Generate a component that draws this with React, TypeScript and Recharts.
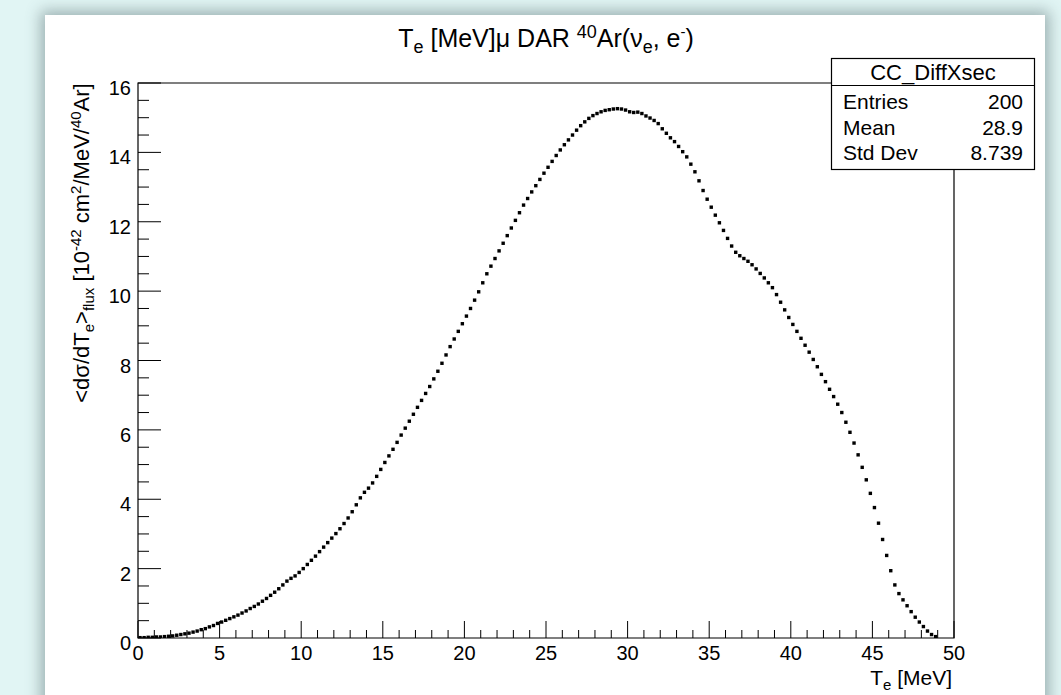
import { ScatterChart, Scatter, XAxis, YAxis, ReferenceArea } from 'recharts'

// histogram binning: 200 bins from 0 to 50 MeV
const BIN_LO = 0
const BIN_HI = 50
const N_BINS = 200

// bin contents, 10 MeV per block (40 bins each)
const xsec0to10 = [
  0.01, 0.01, 0.02, 0.02, 0.03, 0.03, 0.04, 0.05, 0.06, 0.08,
  0.10, 0.12, 0.14, 0.17, 0.20, 0.24, 0.27, 0.32, 0.36, 0.42,
  0.46, 0.51, 0.56, 0.61, 0.66, 0.72, 0.78, 0.85, 0.91, 0.98,
  1.06, 1.14, 1.23, 1.32, 1.42, 1.53, 1.64, 1.72, 1.79, 1.89,
]
const xsec10to20 = [
  2.00, 2.12, 2.24, 2.36, 2.49, 2.62, 2.75, 2.88, 3.01, 3.15,
  3.30, 3.46, 3.64, 3.84, 4.04, 4.20, 4.32, 4.47, 4.66, 4.86,
  5.06, 5.25, 5.44, 5.64, 5.85, 6.05, 6.25, 6.45, 6.65, 6.85,
  7.05, 7.25, 7.47, 7.69, 7.92, 8.16, 8.40, 8.62, 8.84, 9.06,
]
const xsec20to30 = [
  9.28, 9.50, 9.74, 9.98, 10.24, 10.50, 10.72, 10.94, 11.16, 11.38,
  11.60, 11.82, 12.04, 12.26, 12.48, 12.67, 12.86, 13.04, 13.22, 13.40,
  13.57, 13.74, 13.91, 14.07, 14.22, 14.36, 14.50, 14.64, 14.77, 14.88,
  14.98, 15.06, 15.12, 15.17, 15.21, 15.23, 15.25, 15.26, 15.25, 15.22,
]
const xsec30to40 = [
  15.17, 15.15, 15.16, 15.12, 15.05, 14.99, 14.92, 14.83, 14.68, 14.55,
  14.42, 14.31, 14.17, 14.02, 13.87, 13.66, 13.44, 13.18, 12.90, 12.65,
  12.42, 12.19, 11.97, 11.75, 11.52, 11.30, 11.12, 11.02, 10.94, 10.86,
  10.76, 10.64, 10.51, 10.38, 10.24, 10.10, 9.90, 9.68, 9.46, 9.24,
]
const xsec40to50 = [
  9.04, 8.84, 8.64, 8.44, 8.24, 8.03, 7.82, 7.60, 7.39, 7.17,
  6.96, 6.74, 6.50, 6.22, 5.93, 5.62, 5.28, 4.92, 4.56, 4.17,
  3.76, 3.31, 2.84, 2.38, 1.94, 1.53, 1.28, 1.10, 0.93, 0.76,
  0.60, 0.46, 0.33, 0.20, 0.10, 0.04, 0, 0, 0, 0,
]

const xTicks = [
  0, 1, 2, 3, 4, 5, 6, 7, 8, 9, 10, 11, 12, 13, 14, 15, 16, 17, 18, 19, 20,
  21, 22, 23, 24, 25, 26, 27, 28, 29, 30, 31, 32, 33, 34, 35, 36, 37, 38, 39, 40,
  41, 42, 43, 44, 45, 46, 47, 48, 49, 50,
]
const xLabels = [0, 5, 10, 15, 20, 25, 30, 35, 40, 45, 50]
const yTicks = [
  0, 0.5, 1, 1.5, 2, 2.5, 3, 3.5, 4, 4.5, 5, 5.5, 6, 6.5, 7, 7.5, 8,
  8.5, 9, 9.5, 10, 10.5, 11, 11.5, 12, 12.5, 13, 13.5, 14, 14.5, 15, 15.5, 16,
]
const yLabels = [0, 2, 4, 6, 8, 10, 12, 14, 16]

const statRows = [
  ['Entries', '200'],
  ['Mean', '28.9'],
  ['Std Dev', '8.739'],
]

const FONT = '"Liberation Sans", Arial, Helvetica, sans-serif'

const binW = (BIN_HI - BIN_LO) / N_BINS
const data = [...xsec0to10, ...xsec10to20, ...xsec20to30, ...xsec30to40, ...xsec40to50]
  .map((v, i) => ({ x: BIN_LO + (i + 0.5) * binW, y: v }))

const XTick = (props: any) => {
  const { x, y, payload } = props
  const major = xLabels.includes(payload.value)
  return (
    <g>
      <line x1={x} y1={y} x2={x} y2={y - (major ? 17 : 8)} stroke="#000" strokeWidth={1} />
      {major && (
        <text x={x} y={y + 22} textAnchor="middle" fontSize={20} fontFamily={FONT} fill="#000">
          {payload.value}
        </text>
      )}
    </g>
  )
}

const YTick = (props: any) => {
  const { x, y, payload } = props
  const major = yLabels.includes(payload.value)
  return (
    <g>
      <line x1={x} y1={y} x2={x + (major ? 23 : 11)} y2={y} stroke="#000" strokeWidth={1} />
      {major && (
        <text x={x - 7} y={y + 12} textAnchor="end" fontSize={20} fontFamily={FONT} fill="#000">
          {payload.value}
        </text>
      )}
    </g>
  )
}

// small filled square, ROOT marker style 21-ish
const Marker = (props: any) => {
  const { cx, cy, payload } = props
  if (!payload || payload.y <= 0) return null
  return <rect x={cx - 1.7} y={cy - 1.7} width={3.4} height={3.4} fill="#000" />
}

export default function App() {
  return (
    <div style={{ position: 'fixed', left: 0, top: 0, width: 1061, height: 695, background: '#e1f5f4', overflow: 'hidden' }}>
      <div style={{
        position: 'absolute', left: 45, top: 15, width: 1000, height: 700,
        background: '#fff', boxShadow: '0 0 14px 4px rgba(70,90,95,0.45)',
      }} />
      <div style={{ position: 'absolute', left: 0, top: 0 }}>
        <ScatterChart width={1061} height={695} margin={{ top: 83, right: 107, bottom: 27, left: 78 }}>
          <XAxis
            type="number" dataKey="x" domain={[0, 50]} ticks={xTicks} interval={0}
            allowDataOverflow axisLine={false} tickLine={false} tickSize={0} tickMargin={0}
            height={30} tick={<XTick />}
          />
          <YAxis
            type="number" dataKey="y" domain={[0, 16]} ticks={yTicks} interval={0}
            allowDataOverflow axisLine={false} tickLine={false} tickSize={0} tickMargin={0}
            width={60} tick={<YTick />}
          />
          <ReferenceArea x1={0} x2={50} y1={0} y2={16} fill="none" stroke="#000" strokeWidth={1.2} ifOverflow="visible" />
          <Scatter data={data} shape={<Marker />} isAnimationActive={false} />
        </ScatterChart>
      </div>
      <svg width={1061} height={695} style={{ position: 'absolute', left: 0, top: 0 }} fontFamily={FONT}>
        {/* title */}
        <text x={546} y={47} textAnchor="middle" fontSize={25} fill="#000">
          T<tspan fontSize={18} dy={6}>e</tspan>
          <tspan dy={-6}> [MeV]μ DAR </tspan>
          <tspan fontSize={18} dy={-9}>40</tspan>
          <tspan dy={9}>Ar(ν</tspan>
          <tspan fontSize={18} dy={6}>e</tspan>
          <tspan dy={-6}>, e</tspan>
          <tspan fontSize={15} dy={-10}>-</tspan>
          <tspan dy={10}>)</tspan>
        </text>

        {/* x axis title */}
        <text x={952} y={685} textAnchor="end" fontSize={21} fill="#000">
          T<tspan fontSize={15} dy={5}>e</tspan>
          <tspan dy={-5}> [MeV]</tspan>
        </text>

        {/* y axis title */}
        <text transform="translate(89,243) rotate(-90)" x={0} y={0} textAnchor="middle" fontSize={22} fill="#000">
          {'<dσ/dT'}<tspan fontSize={15} dy={5}>e</tspan>
          <tspan dy={-5}>{'>'}</tspan>
          <tspan fontSize={15} dy={5}>flux</tspan>
          <tspan dy={-5}> [10</tspan>
          <tspan fontSize={15} dy={-8}>-42</tspan>
          <tspan dy={8}> cm</tspan>
          <tspan fontSize={15} dy={-8}>2</tspan>
          <tspan dy={8}>/MeV/</tspan>
          <tspan fontSize={15} dy={-8}>40</tspan>
          <tspan dy={8}>Ar]</tspan>
        </text>

        {/* stats box */}
        <rect x={831.5} y={58.5} width={203} height={111} fill="#fff" stroke="#000" strokeWidth={1.2} />
        <line x1={831.5} y1={85.5} x2={1034.5} y2={85.5} stroke="#000" strokeWidth={1.2} />
        <text x={933} y={80} textAnchor="middle" fontSize={22} fill="#000">CC_DiffXsec</text>
        {statRows.map(([k, v], i) => (
          <g key={k}>
            <text x={843} y={109 + i * 25.5} fontSize={21} fill="#000">{k}</text>
            <text x={1023} y={109 + i * 25.5} textAnchor="end" fontSize={21} fill="#000">{v}</text>
          </g>
        ))}
      </svg>
    </div>
  )
}
